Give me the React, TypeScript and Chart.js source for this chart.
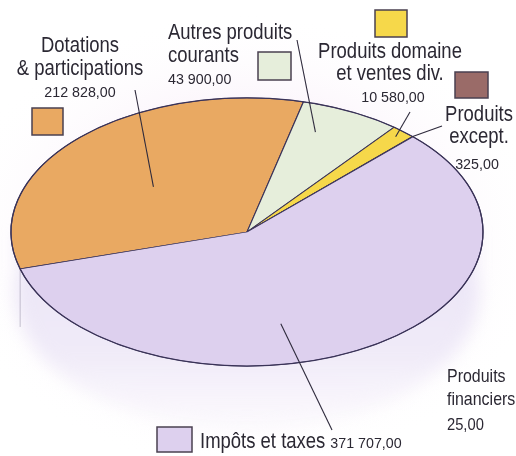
import React, { useEffect, useRef } from "react";
import { Chart, registerables } from "chart.js";

Chart.register(...registerables);

// ---- data ----
const categories = [
  "Dotations & participations",
  "Autres produits courants",
  "Produits domaine et ventes div.",
  "Produits except.",
  "Produits financiers",
  "Impôts et taxes",
];
const values = [212828, 43900, 10580, 325, 25, 371707];
const valueLabels = ["212 828,00", "43 900,00", "10 580,00", "325,00", "25,00", "371 707,00"];
const nameLines = [
  ["Dotations", "& participations"],
  ["Autres produits", "courants"],
  ["Produits domaine", "et ventes div."],
  ["Produits", "except."],
  ["Produits", "financiers"],
  ["Impôts et taxes"],
];
const colors = ["#e9a962", "#e6eedb", "#f6d84a", "#9a6b68", "#b9a9c9", "#ddd0ee"];

// ---- layout / style ----
const FONT = "'Liberation Sans', Arial, sans-serif";
const TEXT = "#2b2833";
const SQUASH = 0.568;
const DEPTH = 62;
const NAME_SX = 0.84;
const VAL_SX = 0.92;

type LabelLayout = {
  align: "left" | "center";
  x: number;
  ys: number[];
  size: number;
  valSize: number;
  valX?: number;
  box?: [number, number, number, number];
  line?: { from: [number, number]; frac: number; rf: number };
  inline?: boolean;
};

const layouts: LabelLayout[] = [
  { align: "center", x: 80, ys: [52, 75, 97], size: 22, valSize: 15.5, box: [32, 108, 31, 27], line: { from: [135, 90], frac: 0.47, rf: 0.52 } },
  { align: "left", x: 168, ys: [39, 62, 84], size: 22, valSize: 15.5, box: [258, 52, 33, 28], line: { from: [297, 40], frac: 0.3, rf: 0.8 } },
  { align: "center", x: 390, ys: [58, 80, 102], size: 22, valSize: 15.5, valX: 393, box: [375, 10, 32, 27], line: { from: [410, 112], frac: 0.5, rf: 0.95 } },
  { align: "center", x: 479, ys: [121, 143, 169], size: 22, valSize: 15.5, valX: 477, box: [455, 72, 33, 26], line: { from: [442, 126], frac: 0.5, rf: 1.0 } },
  { align: "left", x: 447, ys: [382, 405, 430], size: 19, valSize: 16 },
  { align: "left", x: 200, ys: [448], size: 22, valSize: 15.5, box: [157, 427, 35, 25], inline: true, line: { from: [332, 430], frac: 0.59, rf: 0.7 } },
];

function drawText(ctx: CanvasRenderingContext2D, t: string, x: number, y: number, size: number, sx: number, align: "left" | "center") {
  ctx.save();
  ctx.font = `${size}px ${FONT}`;
  ctx.textAlign = align;
  ctx.textBaseline = "alphabetic";
  ctx.translate(x, y);
  ctx.scale(sx, 1);
  ctx.fillText(t, 0, 0);
  ctx.restore();
}

const pie3d = {
  id: "pie3d",
  beforeDraw(chart: any) {
    const { ctx, width, height } = chart;
    ctx.save();
    ctx.fillStyle = "#ffffff";
    ctx.fillRect(0, 0, width, height);
    const arc = chart.getDatasetMeta(0).data[0];
    if (arc) {
      const { x: cx, y: cy, outerRadius: R } = arc;
      ctx.translate(cx, cy + 10);
      ctx.scale(1, 0.75);
      const g = ctx.createRadialGradient(0, 0, R * 0.6, 0, 0, R * 1.3);
      g.addColorStop(0, "rgba(248,236,248,0.9)");
      g.addColorStop(1, "rgba(255,255,255,0)");
      ctx.fillStyle = g;
      ctx.beginPath();
      ctx.arc(0, 0, R * 1.3, 0, Math.PI * 2);
      ctx.fill();
    }
    ctx.restore();
  },
  beforeDatasetsDraw(chart: any) {
    const ctx = chart.ctx;
    const meta = chart.getDatasetMeta(0);
    const arc0 = meta.data[0];
    const { x: cx, y: cy, outerRadius: R } = arc0;
    const b = R * SQUASH;
    // rim / shadow
    ctx.save();
    ctx.filter = "blur(8px)";
    const g = ctx.createLinearGradient(0, cy, 0, cy + b + DEPTH + 10);
    g.addColorStop(0, "rgba(234,228,246,1)");
    g.addColorStop(0.6, "rgba(240,235,248,1)");
    g.addColorStop(1, "rgba(250,248,252,0.5)");
    ctx.fillStyle = g;
    ctx.beginPath();
    ctx.ellipse(cx, cy + DEPTH, R - 4, b, 0, 0, Math.PI * 2);
    ctx.rect(cx - R + 8, cy, 2 * R - 16, DEPTH);
    ctx.fill();
    ctx.restore();
    // left rim edge line
    const a = arc0.startAngle;
    const ex = cx + R * Math.cos(a);
    const ey = cy + b * Math.sin(a);
    ctx.save();
    ctx.strokeStyle = "rgba(160,155,175,0.6)";
    ctx.lineWidth = 1;
    ctx.beginPath();
    ctx.moveTo(ex, ey);
    ctx.lineTo(ex, ey + DEPTH - 4);
    ctx.stroke();
    ctx.restore();
    // squash top face
    ctx.save();
    ctx.translate(cx, cy);
    ctx.scale(1, SQUASH);
    ctx.translate(-cx, -cy);
  },
  afterDatasetsDraw(chart: any) {
    const ctx = chart.ctx;
    ctx.restore();
    const meta = chart.getDatasetMeta(0);
    const arc0 = meta.data[0];
    const { x: cx, y: cy, outerRadius: R } = arc0;
    // outer outline
    ctx.save();
    ctx.strokeStyle = "#3a3358";
    ctx.lineWidth = 1.2;
    ctx.beginPath();
    ctx.ellipse(cx, cy, R, R * SQUASH, 0, 0, Math.PI * 2);
    ctx.stroke();
    ctx.restore();

    layouts.forEach((L, i) => {
      const el = meta.data[i];
      ctx.save();
      if (L.line && el) {
        const ang = el.startAngle + L.line.frac * (el.endAngle - el.startAngle);
        const r = L.line.rf * R;
        const px = cx + r * Math.cos(ang);
        const py = cy + r * SQUASH * Math.sin(ang);
        ctx.strokeStyle = "#2e2a3c";
        ctx.lineWidth = 1.1;
        ctx.beginPath();
        ctx.moveTo(L.line.from[0], L.line.from[1]);
        ctx.lineTo(px, py);
        ctx.stroke();
      }
      if (L.box) {
        const [bx, by, bw, bh] = L.box;
        ctx.fillStyle = colors[i];
        ctx.fillRect(bx, by, bw, bh);
        ctx.strokeStyle = "#4a4050";
        ctx.lineWidth = 1.5;
        ctx.strokeRect(bx, by, bw, bh);
      }
      ctx.fillStyle = TEXT;
      const lines = nameLines[i];
      lines.forEach((t, j) => drawText(ctx, t, L.x, L.ys[j], L.size, NAME_SX, L.align));
      if (L.inline) {
        ctx.font = `${L.size}px ${FONT}`;
        const w = ctx.measureText(lines[0]).width * NAME_SX;
        drawText(ctx, valueLabels[i], L.x + w + 5, L.ys[0], L.valSize, VAL_SX, "left");
      } else {
        drawText(ctx, valueLabels[i], L.valX ?? L.x, L.ys[lines.length], L.valSize, VAL_SX, L.align);
      }
      ctx.restore();
    });
  },
};

export default function App() {
  const ref = useRef<HTMLCanvasElement>(null);
  useEffect(() => {
    document.body.style.margin = "0";
    const canvas = ref.current!;
    const chart = new Chart(canvas, {
      type: "pie",
      data: {
        labels: categories,
        datasets: [
          {
            data: values,
            backgroundColor: colors,
            borderColor: "#3a3358",
            borderWidth: 1.2,
            clip: false as any,
          },
        ],
      },
      options: {
        animation: false,
        responsive: false,
        events: [],
        rotation: 254,
        radius: 236,
        layout: { padding: { left: 0, right: 22, top: 8, bottom: 0 } },
        plugins: { legend: { display: false }, tooltip: { enabled: false } },
      } as any,
      plugins: [pie3d],
    });
    return () => chart.destroy();
  }, []);
  return <canvas ref={ref} width={516} height={456} style={{ display: "block" }} />;
}
